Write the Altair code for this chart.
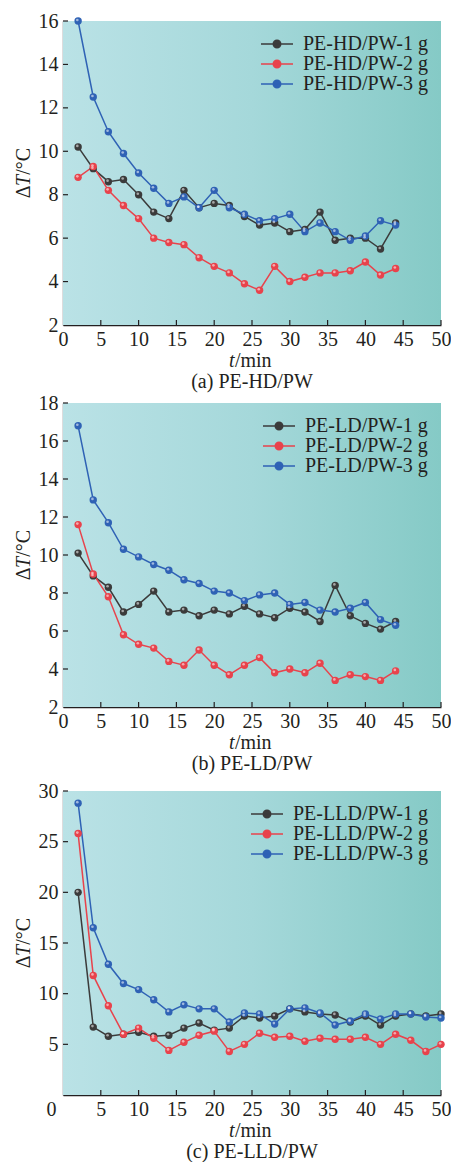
import altair as alt
import pandas as pd

# ---------------- data ----------------
t_ab = list(range(2, 46, 2))
t_c = list(range(2, 52, 2))

hd_names = ["PE-HD/PW-1 g", "PE-HD/PW-2 g", "PE-HD/PW-3 g"]
hd_1 = [10.2, 9.2, 8.6, 8.7, 8.0, 7.2, 6.9, 8.2, 7.4, 7.6, 7.5, 7.0, 6.6, 6.7, 6.3, 6.4, 7.2, 5.9, 6.0, 6.0, 5.5, 6.7]
hd_2 = [8.8, 9.3, 8.2, 7.5, 6.9, 6.0, 5.8, 5.7, 5.1, 4.7, 4.4, 3.9, 3.6, 4.7, 4.0, 4.2, 4.4, 4.4, 4.5, 4.9, 4.3, 4.6]
hd_3 = [16.0, 12.5, 10.9, 9.9, 9.0, 8.3, 7.6, 7.9, 7.4, 8.2, 7.4, 7.1, 6.8, 6.9, 7.1, 6.3, 6.7, 6.3, 5.9, 6.1, 6.8, 6.6]

ld_names = ["PE-LD/PW-1 g", "PE-LD/PW-2 g", "PE-LD/PW-3 g"]
ld_1 = [10.1, 8.9, 8.3, 7.0, 7.4, 8.1, 7.0, 7.1, 6.8, 7.1, 6.9, 7.3, 6.9, 6.7, 7.2, 7.0, 6.5, 8.4, 6.8, 6.4, 6.1, 6.5]
ld_2 = [11.6, 9.0, 7.8, 5.8, 5.3, 5.1, 4.4, 4.2, 5.0, 4.2, 3.7, 4.2, 4.6, 3.8, 4.0, 3.8, 4.3, 3.4, 3.7, 3.6, 3.4, 3.9]
ld_3 = [16.8, 12.9, 11.7, 10.3, 9.9, 9.5, 9.2, 8.7, 8.5, 8.1, 8.0, 7.6, 7.9, 8.0, 7.4, 7.5, 7.1, 7.0, 7.2, 7.5, 6.6, 6.3]

lld_names = ["PE-LLD/PW-1 g", "PE-LLD/PW-2 g", "PE-LLD/PW-3 g"]
lld_1 = [20.0, 6.7, 5.8, 6.0, 6.2, 5.8, 5.9, 6.6, 7.1, 6.4, 6.6, 7.8, 7.6, 7.8, 8.5, 8.2, 8.0, 7.9, 7.2, 7.8, 6.9, 7.8, 8.0, 7.8, 8.0]
lld_2 = [25.8, 11.8, 8.8, 6.0, 6.6, 5.6, 4.4, 5.2, 5.9, 6.3, 4.3, 5.0, 6.1, 5.7, 5.8, 5.3, 5.6, 5.5, 5.5, 5.7, 5.0, 6.0, 5.4, 4.3, 5.0]
lld_3 = [28.8, 16.5, 12.9, 11.0, 10.4, 9.4, 8.2, 8.9, 8.5, 8.5, 7.2, 8.1, 8.0, 7.0, 8.5, 8.6, 8.1, 6.9, 7.3, 8.0, 7.5, 8.0, 8.0, 7.7, 7.6]

captions = ["(a) PE-HD/PW", "(b) PE-LD/PW", "(c) PE-LLD/PW"]

# ---------------- style ----------------
FONT = "Liberation Serif"
FS = 20
INK = "#231f20"
COLORS = ["#3b3b3b", "#e8434c", "#2f62b5"]
W, H = 378, 304
# line of 32 px with a dot in the middle (size 100 -> unit = 5 px)
LEGEND_SYMBOL = "M-3.2,0H3.2M0.75,0A0.75,0.75,0,1,1,-0.75,0A0.75,0.75,0,1,1,0.75,0Z"
ONE = alt.Data(values=[{"k": 1}])


def txt(text, x, y, angle=0, align="left", italic=False):
    return alt.Chart(ONE).mark_text(
        text=text, font=FONT, fontSize=FS, color=INK, angle=angle,
        align=align, baseline="middle", fontStyle="italic" if italic else "normal",
    ).encode(x=alt.value(x), y=alt.value(y))


def panel(t, series, names, ymin, ymax, ystep, caption, corner_zero=False):
    rows = []
    for name, vals in zip(names, series):
        for ti, v in zip(t, vals):
            rows.append({"t": ti, "dT": v, "series": name})
    df = pd.DataFrame(rows)

    xscale = alt.Scale(domain=[0, 50], nice=False, zero=False)
    yscale = alt.Scale(domain=[ymin, ymax], nice=False, zero=False)
    xvals = list(range(0, 51, 5))
    yvals = list(range(ymin, ymax + 1, ystep))
    if corner_zero:
        yvals = [v for v in yvals if v != 0]

    xaxis = alt.Axis(
        values=xvals, title=None, grid=False, ticks=False, domainColor=INK,
        domainWidth=1.3, labelFont=FONT, labelFontSize=FS, labelColor=INK,
        labelPadding=4, labelFlush=False,
        labelOffset=({"condition": {"test": "datum.value === 0", "value": -12}, "value": 0}
                     if corner_zero else 0),
    )
    yaxis = alt.Axis(
        values=yvals, title=None, grid=False, ticks=False, domainColor=INK,
        domainWidth=1.3, labelFont=FONT, labelFontSize=FS, labelColor=INK,
        labelPadding=5, labelFlush=False,
    )

    bg = alt.Chart(ONE).mark_rect(
        fill=alt.LinearGradient(
            gradient="linear",
            stops=[alt.GradientStop(color="#bae2e6", offset=0),
                   alt.GradientStop(color="#a5d8da", offset=0.5),
                   alt.GradientStop(color="#85cac6", offset=1)],
            x1=0, x2=1, y1=0, y2=0,
        )
    ).encode(x=alt.value(0), x2=alt.value(W), y=alt.value(0), y2=alt.value(H))

    color_scale = alt.Scale(domain=names, range=COLORS)
    base = alt.Chart(df).encode(
        x=alt.X("t:Q", scale=xscale, axis=xaxis),
        y=alt.Y("dT:Q", scale=yscale, axis=yaxis),
    )
    lines = base.mark_line(strokeWidth=1.5).encode(
        color=alt.Color("series:N", scale=color_scale, legend=alt.Legend(
            title=None, orient="top-right", offset=13, padding=0,
            symbolType=LEGEND_SYMBOL, symbolSize=100, symbolStrokeWidth=1.5,
            labelFont=FONT, labelFontSize=FS, labelColor=INK,
            labelOffset=16, rowPadding=-3, labelLimit=300,
        )),
        detail="series:N",
    )
    pts = base.mark_circle(size=55, opacity=1).encode(
        color=alt.Color("series:N", scale=color_scale, legend=None),
    )
    hi = base.mark_circle(size=7, opacity=0.55, color="white", xOffset=-0.8, yOffset=-1.0)

    xt = alt.Chart(alt.Data(values=[{"t": v} for v in xvals if v > 0])).mark_rule(
        color=INK, strokeWidth=1.2
    ).encode(x=alt.X("t:Q", scale=xscale, axis=xaxis), y=alt.value(H), y2=alt.value(H - 5))
    yt = alt.Chart(alt.Data(values=[{"dT": v} for v in yvals if v > ymin])).mark_rule(
        color=INK, strokeWidth=1.2
    ).encode(y=alt.Y("dT:Q", scale=yscale, axis=yaxis), x=alt.value(0), x2=alt.value(5))

    # axis titles (mixed italic) and caption
    cy = H / 2
    d_w, T_w, rest_w = 0.612 * FS, 0.556 * FS, (0.278 + 0.4 + 0.667) * FS
    start = cy + (d_w + T_w + rest_w) / 2
    ytitle = [
        txt("Δ", -39, start, angle=270),
        txt("T", -39, start - d_w, angle=270, italic=True),
        txt("/°C", -39, start - d_w - T_w, angle=270),
    ]
    cx = W / 2 - 2
    tw, mw = 0.278 * FS, (0.278 + 0.778 + 0.278 + 0.5) * FS
    s = cx - (tw + mw) / 2
    xtitle = [
        txt("t", s, H + 36, italic=True),
        txt("/min", s + tw + 0.5, H + 36),
    ]
    cap = txt(caption, W / 2, H + 57, align="center")

    return alt.layer(bg, lines, pts, hi, xt, yt, *ytitle, *xtitle, cap).properties(
        width=W, height=H
    )


pa = panel(t_ab, [hd_1, hd_2, hd_3], hd_names, 2, 16, 2, captions[0])
pb = panel(t_ab, [ld_1, ld_2, ld_3], ld_names, 2, 18, 2, captions[1])
pc = panel(t_c, [lld_1, lld_2, lld_3], lld_names, 0, 30, 5, captions[2], corner_zero=True)

top = alt.vconcat(pa, pb, spacing=1).resolve_scale(color="independent")
chart = alt.vconcat(top, pc, spacing=7).resolve_scale(color="independent").properties(
    padding={"left": 14, "top": 11, "right": 0, "bottom": 0},
    background="white",
).configure_view(stroke=None)

chart.save("out.html", embed_options={"renderer": "svg", "actions": False})
